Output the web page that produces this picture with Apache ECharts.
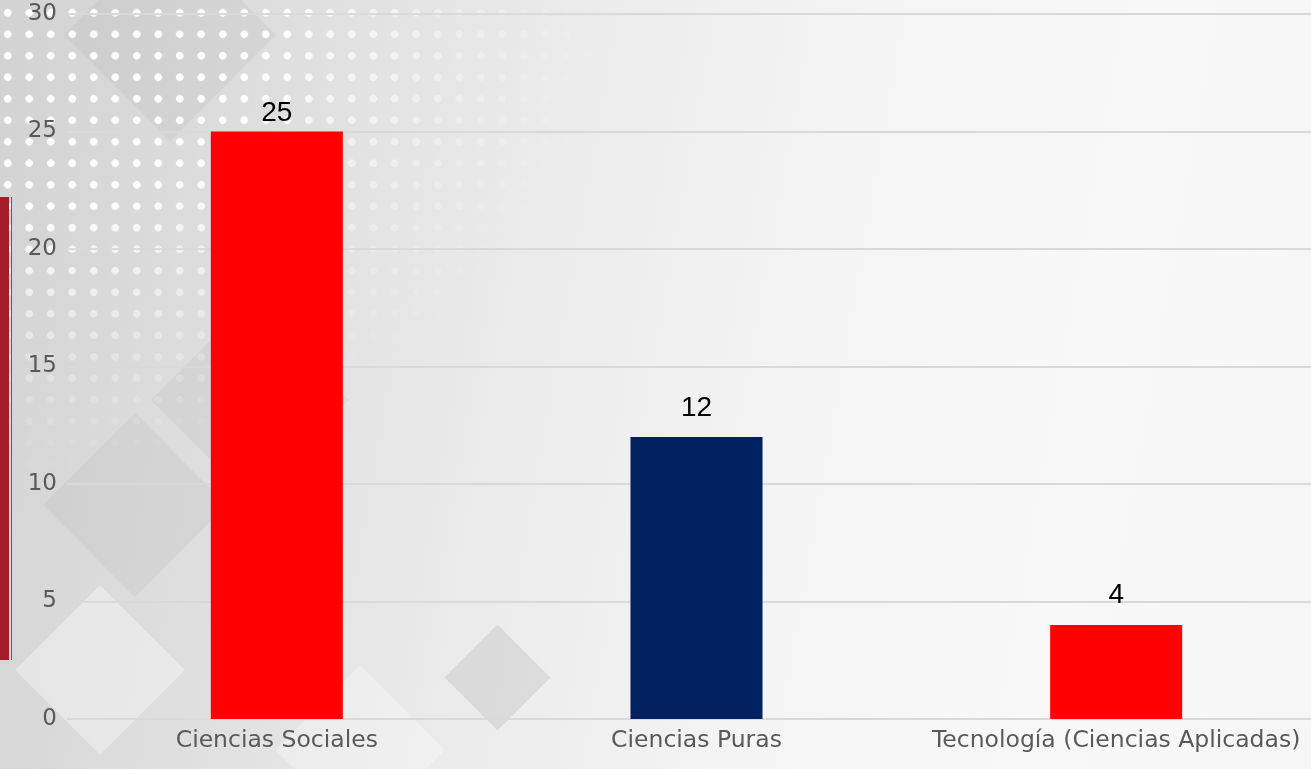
<!DOCTYPE html>
<html>
<head>
<meta charset="utf-8">
<script src="https://cdn.jsdelivr.net/npm/echarts@6/dist/echarts.min.js"></script>
<style>
  html, body { margin:0; padding:0; width:1311px; height:769px; overflow:hidden; }
  body { position:relative;
    background: linear-gradient(100deg, #d2d2d2 0%, #dedede 20%, #ebebeb 40%, #f4f4f4 60%, #f8f8f8 80%, #f6f6f6 100%); }
  .dots { position:absolute; left:0; top:0; width:620px; height:720px;
    background-image: radial-gradient(circle, rgba(255,255,255,0.95) 3.5px, transparent 4px);
    background-size: 21.5px 21.5px; background-position: -3px 2px;
    -webkit-mask-image: radial-gradient(ellipse 620px 480px at 0 0, #000 45%, rgba(0,0,0,0.35) 75%, transparent 100%);
    mask-image: radial-gradient(ellipse 620px 480px at 0 0, #000 45%, rgba(0,0,0,0.35) 75%, transparent 100%); }
  .dia { position:absolute; transform: rotate(45deg); background: rgba(160,160,160,0.14); }
  .redbar { position:absolute; left:0; top:197px; width:9px; height:463px; background:#a51c29; }
  .redline { position:absolute; left:11px; top:197px; width:1px; height:463px; background:#c0333e; }
  #chart { position:absolute; left:0; top:0; width:1330px; height:769px; }
</style>
</head>
<body>
<div class="dia" style="left:95px;top:-40px;width:150px;height:150px;"></div>
<div class="dia" style="left:70px;top:440px;width:130px;height:130px;"></div>
<div class="dia" style="left:180px;top:330px;width:140px;height:140px;"></div>
<div class="dia" style="left:460px;top:640px;width:75px;height:75px;background:rgba(150,150,150,0.2)"></div>
<div class="dia" style="left:40px;top:610px;width:120px;height:120px;background:rgba(255,255,255,0.35)"></div>
<div class="dia" style="left:300px;top:690px;width:120px;height:120px;background:rgba(255,255,255,0.3)"></div>
<div class="dots"></div>
<div class="redbar"></div>
<div class="redline"></div>
<div id="chart"></div>
<script>
const categories = ['Ciencias Sociales', 'Ciencias Puras', 'Tecnología (Ciencias Aplicadas)'];
const values = [25, 12, 4];
const barColors = ['#ff0000', '#002060', '#ff0000'];
const yTicks = { min: 0, max: 30, interval: 5 };

// label gap above each bar (style only)
const labelGap = [4, 15, 16];

const chart = echarts.init(document.getElementById('chart'), null, { renderer: 'canvas' });
chart.setOption({
  backgroundColor: 'transparent',
  animation: false,
  grid: { left: 67, right: 4, top: 14, bottom: 50, containLabel: false, outerBoundsMode: 'none' },
  xAxis: {
    type: 'category',
    data: categories,
    axisLine: { show: false },
    axisTick: { show: false },
    axisLabel: { color: '#595959', fontFamily: 'DejaVu Sans', fontSize: 23.5, margin: 10,
                 interval: 0, hideOverlap: false },
  },
  yAxis: {
    type: 'value',
    min: yTicks.min, max: yTicks.max, interval: yTicks.interval,
    axisLine: { show: false },
    axisTick: { show: false },
    splitLine: { lineStyle: { color: '#d9d9d9', width: 2 } },
    axisLabel: { color: '#595959', fontFamily: 'DejaVu Sans', fontSize: 23, margin: 10 },
  },
  series: [{
    type: 'bar',
    data: values.map((v, i) => ({ value: v, itemStyle: { color: barColors[i] },
                                   label: { distance: labelGap[i] } })),
    barWidth: 132,
    label: { show: true, position: 'top', distance: 4, color: '#000000',
             fontFamily: 'Liberation Sans', fontSize: 28 },
  }]
});
</script>
</body>
</html>
